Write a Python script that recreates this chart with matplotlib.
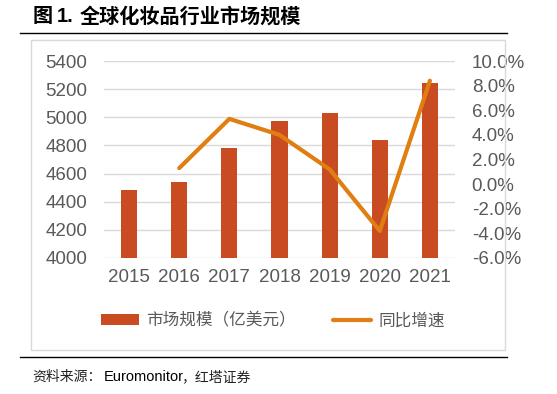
import numpy as np
import matplotlib
matplotlib.use("Agg")
import matplotlib.pyplot as plt
from matplotlib.patches import Rectangle
from matplotlib.lines import Line2D

plt.rcParams['font.family'] = ['Liberation Sans', 'Noto Sans CJK SC', 'DejaVu Sans']

years = ['2015', '2016', '2017', '2018', '2019', '2020', '2021']
market_size = [4482, 4539, 4780, 4972, 5031, 4839, 5246]
growth = [None, 1.3, 5.3, 4.0, 1.2, -3.8, 8.4]   # %

bar_color = '#C84B21'
line_color = '#E17E12'
tick_color = '#595959'
cjk = ['Noto Sans CJK SC', 'DejaVu Sans']

W, H = 557, 394
fig = plt.figure(figsize=(W / 100, H / 100), dpi=100)

def px(x, y):
    return x / W, 1 - y / H

# title + rules + frame
fig.text(*px(33, 16), '图', fontsize=14.5, fontweight='bold', va='center', ha='left', family=cjk)
fig.text(*px(57, 16), '1.', fontsize=14.5, fontweight='bold', va='center', ha='left',
         family=['Liberation Sans'])
fig.text(*px(80, 16), '全球化妆品行业市场规模', fontsize=14.5, fontweight='bold',
         va='center', ha='left', family=cjk)
fig.add_artist(Line2D([20 / W, 507 / W], [1 - 32.5 / H] * 2, color='black', lw=1))
fig.add_artist(Line2D([20 / W, 507 / W], [1 - 357 / H] * 2, color='black', lw=1))
fig.add_artist(Rectangle(px(31, 350), (505 - 31) / W, (350 - 40) / H,
                         fill=False, edgecolor='#D9D9D9', lw=1))
fig.text(*px(32, 377), '资料来源：', fontsize=10, va='center', ha='left', family=cjk, color='#222222')
fig.text(*px(104, 377), 'Euromonitor', fontsize=10.5, va='center', ha='left',
         family=['Liberation Sans'], color='black')
fig.text(*px(181, 377), '，红塔证券', fontsize=10, va='center', ha='left', family=cjk, color='#222222')

ax = fig.add_axes([104 / W, 1 - 258 / H, (455 - 104) / W, (258 - 61) / H])
x = np.arange(len(years))
ax.bar(x, market_size, width=0.32, color=bar_color, zorder=3, label='市场规模（亿美元）')
ax.set_ylim(4000, 5400)
ax.set_yticks(range(4000, 5401, 200))
ax.set_xlim(-0.5, len(years) - 0.5)
ax.set_xticks(x)
ax.set_xticklabels(years)
ax.grid(axis='y', color='#D9D9D9', lw=1, zorder=0)
for s in ax.spines.values():
    s.set_visible(False)
ax.tick_params(length=0, labelsize=13.5, colors=tick_color, pad=12)
ax.tick_params(axis='x', pad=8)

ax2 = ax.twinx()
gx = [i for i, g in enumerate(growth) if g is not None]
gy = [g for g in growth if g is not None]
ax2.plot(gx, gy, color=line_color, lw=3, solid_capstyle='round', zorder=4, label='同比增速')
ax2.set_ylim(-6, 10)
ax2.set_yticks(range(-6, 11, 2))
ax2.set_yticklabels([f'{v:.1f}%' for v in range(-6, 11, 2)])
for s in ax2.spines.values():
    s.set_visible(False)
ax2.tick_params(length=0, labelsize=13.5, colors=tick_color, pad=12)

# legend
h1, l1 = ax.get_legend_handles_labels()
h2, l2 = ax2.get_legend_handles_labels()
leg = fig.legend(h1 + h2, l1 + l2, loc='center', bbox_to_anchor=px(273, 321),
                 ncol=2, frameon=False, prop={'family': cjk, 'size': 12},
                 handlelength=2.3, handleheight=0.6, columnspacing=2.2, handletextpad=0.45)
for t in leg.get_texts():
    t.set_color(tick_color)

fig.savefig('out.png', dpi=100)
